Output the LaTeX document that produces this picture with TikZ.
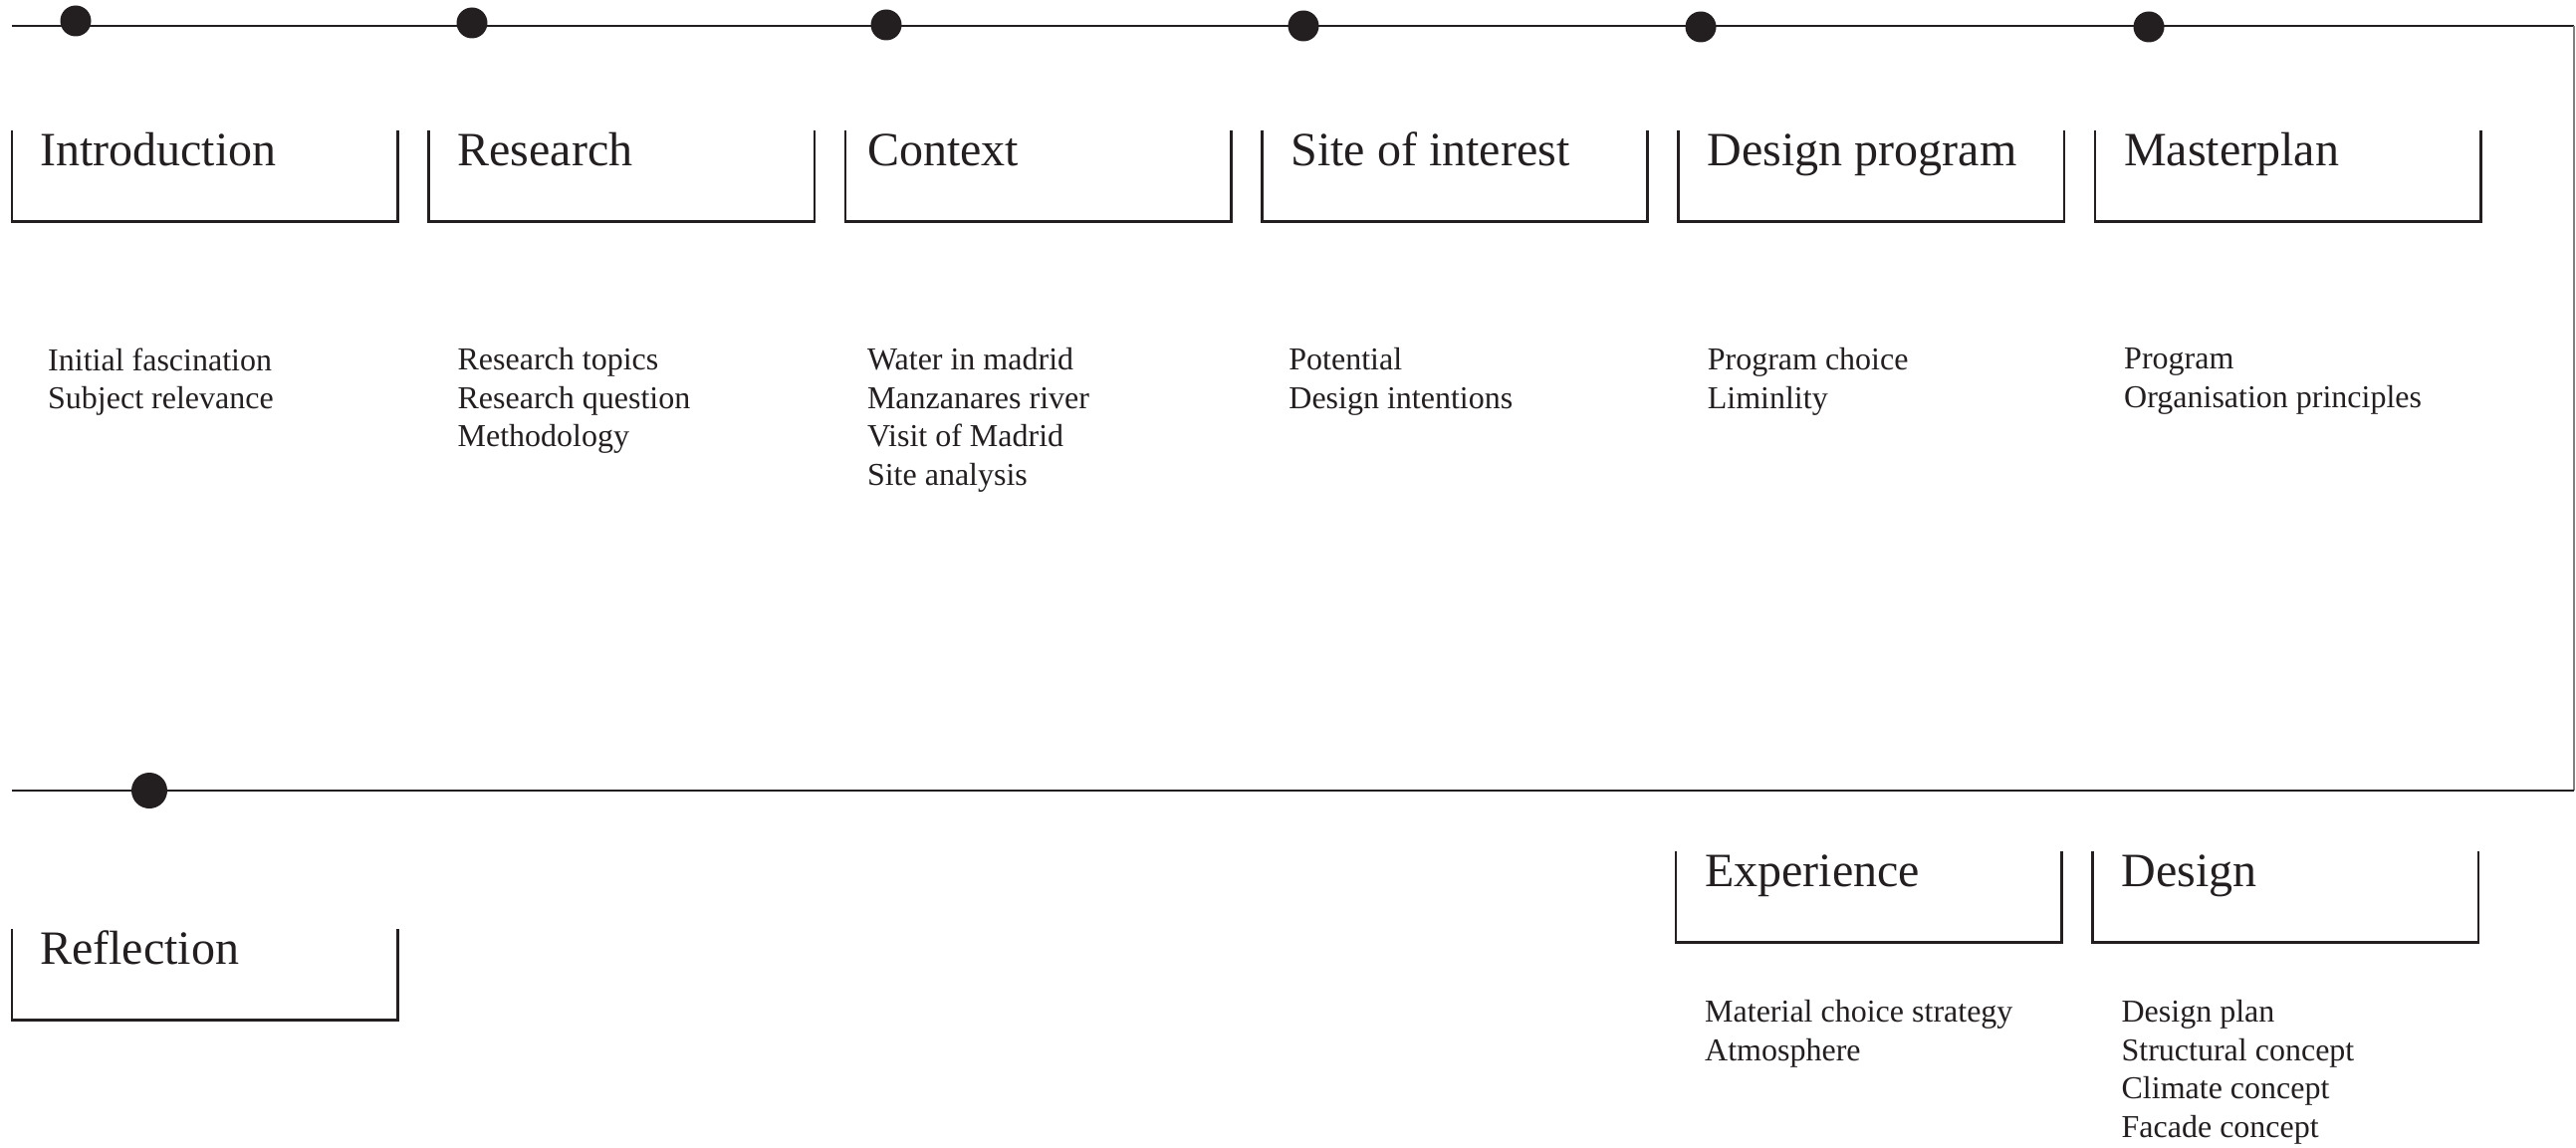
\documentclass[tikz,border=0pt]{standalone}
\usepackage{fontspec}
\setmainfont{Liberation Serif}
\usetikzlibrary{positioning}
\definecolor{ink}{RGB}{35,31,32}

\begin{document}
\begin{tikzpicture}[
    x=1pt, y=-1pt,
    node distance=31pt,
    stage/.style={anchor=north west, text width=329pt, inner xsep=29pt, inner ysep=0pt,
        text height=35pt, text depth=56pt, align=flush left, text=ink,
        font=\fontsize{48}{58}\selectfont},
    topics/.style={anchor=north west, inner sep=0pt, align=left, text=ink,
        font=\fontsize{32}{38.5}\selectfont},
    dot/.style={circle, fill=ink, inner sep=0pt, minimum size=31pt},
    frame/.style={draw=ink, line width=2.6pt}]

    \useasboundingbox (0,0) rectangle (2587,1153);

    % timeline
    \coordinate (topstart) at (12,26);
    \coordinate (topend) at (2585,26);
    \coordinate (bottomend) at (2585,794);
    \coordinate (bottomstart) at (12,794);

    \draw[frame] (topstart) -- (topend);
    \draw[draw=gray, line width=1.3pt] (topend) -- (bottomend);
    \draw[frame] (bottomend) -- (bottomstart);

    \node[dot] (dot1) at (76,21) {};
    \node[dot] (dot2) at (474,23) {};
    \node[dot] (dot3) at (890,25) {};
    \node[dot] (dot4) at (1309,26) {};
    \node[dot] (dot5) at (1708,27) {};
    \node[dot] (dot6) at (2158,27) {};
    \node[dot, minimum size=36pt] (dot7) at (150,794) {};

    % top row
    \node[stage, inner xsep=28pt, text width=331pt] (intro) at (12,131) {Introduction};
    \node[stage, right=of intro] (research) {Research};
    \node[stage, right=of research, inner xsep=22pt, text width=343pt] (context) {Context};
    \node[stage, right=of context] (site) {Site of interest};
    \node[stage, right=of site] (program) {Design program};
    \node[stage, right=of program] (masterplan) {Masterplan};

    \draw[frame] (intro.north west) |- (intro.south east) -- (intro.north east);
    \draw[frame] (research.north west) |- (research.south east) -- (research.north east);
    \draw[frame] (context.north west) |- (context.south east) -- (context.north east);
    \draw[frame] (site.north west) |- (site.south east) -- (site.north east);
    \draw[frame] (program.north west) |- (program.south east) -- (program.north east);
    \draw[frame] (masterplan.north west) |- (masterplan.south east) -- (masterplan.north east);

    \node[topics, below right=127pt and 36pt of intro.south west] (introtopics)
        {Initial fascination\\Subject relevance};
    \node[topics, below right=127pt and 29pt of research.south west] (researchtopics)
        {Research topics\\Research question\\Methodology};
    \node[topics, below right=127pt and 22pt of context.south west] (contexttopics)
        {Water in madrid\\Manzanares river\\Visit of Madrid\\Site analysis};
    \node[topics, below right=127pt and 27pt of site.south west] (sitetopics)
        {Potential\\Design intentions};
    \node[topics, below right=127pt and 29pt of program.south west] (programtopics)
        {Program choice\\Liminlity};
    \node[topics, below right=127pt and 29pt of masterplan.south west] (masterplantopics)
        {Program\\Organisation principles};

    % bottom row
    \node[stage, inner xsep=28pt, text width=331pt] (reflection) at (12,933) {Reflection};
    \node[stage] (experience) at (1683,855) {Experience};
    \node[stage, right=of experience] (design) {Design};

    \draw[frame] (reflection.north west) |- (reflection.south east) -- (reflection.north east);
    \draw[frame] (experience.north west) |- (experience.south east) -- (experience.north east);
    \draw[frame] (design.north west) |- (design.south east) -- (design.north east);

    \node[topics, below right=58pt and 29pt of experience.south west] (experiencetopics)
        {Material choice strategy\\Atmosphere};
    \node[topics, below right=58pt and 29pt of design.south west] (designtopics)
        {Design plan\\Structural concept\\Climate concept\\Facade concept};

\end{tikzpicture}
\end{document}
